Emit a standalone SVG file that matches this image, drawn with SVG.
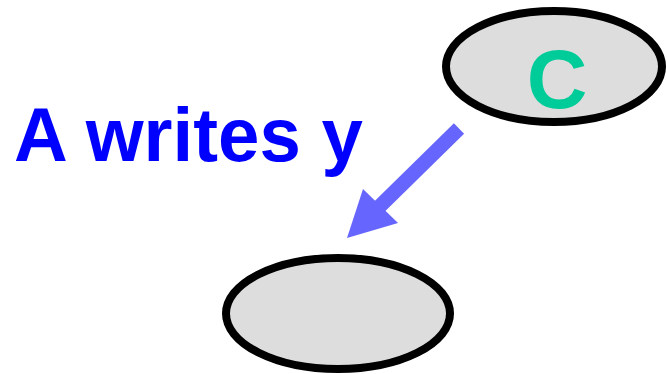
<svg xmlns="http://www.w3.org/2000/svg" width="667" height="374" viewBox="0 0 667 374">
<style>
.node{fill:#dddddd;stroke:#000;stroke-width:8}
.lbl{font-family:"Liberation Sans",Arial,sans-serif;font-weight:bold}
</style>
<rect width="667" height="374" fill="#fff"/>
<g id="nodeC">
<ellipse class="node" cx="554" cy="66.5" rx="108" ry="55.5"/>
<text class="lbl" x="557" y="108" font-size="84" fill="#00cc99" text-anchor="middle">C</text>
</g>
<g id="nodeB">
<ellipse class="node" cx="338" cy="313.5" rx="112" ry="55.5"/>
</g>
<g id="label">
<text class="lbl" x="14" y="160.5" font-size="76" fill="#0000ff" textLength="349" lengthAdjust="spacingAndGlyphs">A writes y</text>
</g>
<g id="connectors">
<line x1="459" y1="128.5" x2="378" y2="208" stroke="#6666ff" stroke-width="14.5"/>
<polygon points="347,238 363,189 398,223" fill="#6666ff"/>
</g>
</svg>
